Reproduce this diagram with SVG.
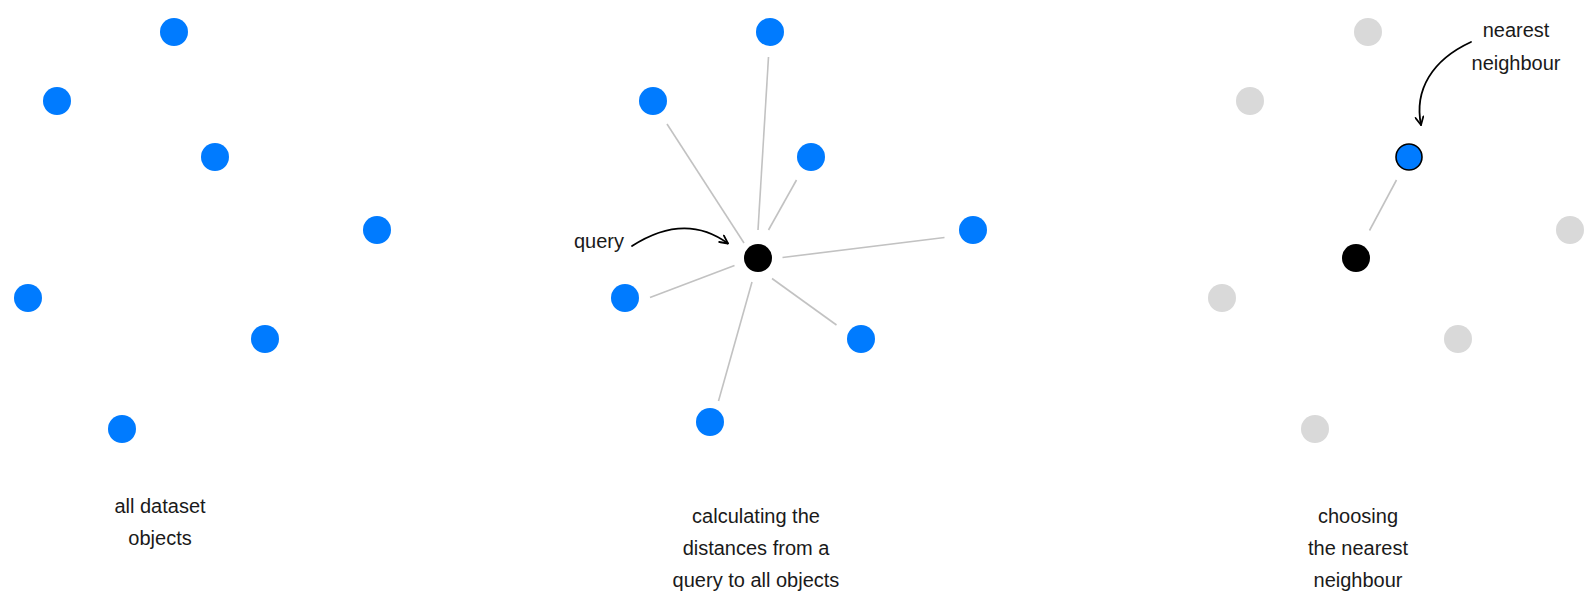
<svg xmlns="http://www.w3.org/2000/svg" width="1592" height="608" viewBox="0 0 1592 608">
<defs>
<style>
.pt{fill:#007bff}
.gr{fill:#d9d9d9}
.q{fill:#000}
.nn{fill:#007bff;stroke:#000;stroke-width:1.6}
.ln{stroke:#c2c2c2;stroke-width:1.6;fill:none}
.ar{stroke:#000;stroke-width:1.8;fill:none;stroke-linecap:round}
.t{font-family:"Liberation Sans",Arial,sans-serif;font-size:20px;fill:#1a1a1a;text-anchor:middle}
.tl{font-family:"Liberation Sans",Arial,sans-serif;font-size:20px;fill:#1a1a1a}
</style>
<marker id="ah" viewBox="0 0 10 10" refX="9" refY="5" markerWidth="10" markerHeight="10" markerUnits="userSpaceOnUse" orient="auto">
<path d="M1,1 L9,5 L1,9" fill="none" stroke="#000" stroke-width="1.8" stroke-linecap="round" stroke-linejoin="round"/>
</marker>
</defs>
<rect width="1592" height="608" fill="#fff"/>

<g id="panel1">
<circle id="p1a" class="pt" cx="174" cy="32" r="14"/>
<circle id="p1b" class="pt" cx="57" cy="101" r="14"/>
<circle id="p1c" class="pt" cx="215" cy="157" r="14"/>
<circle id="p1d" class="pt" cx="377" cy="230" r="14"/>
<circle id="p1e" class="pt" cx="28" cy="298" r="14"/>
<circle id="p1f" class="pt" cx="265" cy="339" r="14"/>
<circle id="p1g" class="pt" cx="122" cy="429" r="14"/>
<text class="t" x="160" y="513">all dataset</text>
<text class="t" x="160" y="545">objects</text>
</g>

<g id="connectors">
<line class="ln" x1="758" y1="230" x2="768.5" y2="57"/>
<line class="ln" x1="744" y1="243" x2="667" y2="124"/>
<line class="ln" x1="768.5" y1="230" x2="796.5" y2="180"/>
<line class="ln" x1="782.5" y1="257.5" x2="944.5" y2="237.5"/>
<line class="ln" x1="734.5" y1="265.5" x2="650" y2="297.5"/>
<line class="ln" x1="772" y1="278.5" x2="836.5" y2="325"/>
<line class="ln" x1="752" y1="282" x2="718.5" y2="401"/>
<line class="ln" x1="1396.5" y1="180" x2="1369.5" y2="230.5"/>
<path class="ar" d="M632,246 Q685,212 728,243.5" marker-end="url(#ah)"/>
<path class="ar" d="M1471,42 C1432,60 1414,90 1421,125" marker-end="url(#ah)"/>
</g>

<g id="panel2">
<circle id="p2a" class="pt" cx="770" cy="32" r="14"/>
<circle id="p2b" class="pt" cx="653" cy="101" r="14"/>
<circle id="p2c" class="pt" cx="811" cy="157" r="14"/>
<circle id="p2d" class="pt" cx="973" cy="230" r="14"/>
<circle id="p2e" class="pt" cx="625" cy="298" r="14"/>
<circle id="p2f" class="pt" cx="861" cy="339" r="14"/>
<circle id="p2g" class="pt" cx="710" cy="422" r="14"/>
<circle id="p2q" class="q" cx="758" cy="258" r="14"/>
<text class="tl" x="574" y="248">query</text>
<text class="t" x="756" y="523">calculating the</text>
<text class="t" x="756" y="555">distances from a</text>
<text class="t" x="756" y="587">query to all objects</text>
</g>

<g id="panel3">
<circle id="p3a" class="gr" cx="1368" cy="32" r="14"/>
<circle id="p3b" class="gr" cx="1250" cy="101" r="14"/>
<circle id="p3d" class="gr" cx="1570" cy="230" r="14"/>
<circle id="p3e" class="gr" cx="1222" cy="298" r="14"/>
<circle id="p3f" class="gr" cx="1458" cy="339" r="14"/>
<circle id="p3g" class="gr" cx="1315" cy="429" r="14"/>
<circle id="p3c" class="nn" cx="1409" cy="157" r="13"/>
<circle id="p3q" class="q" cx="1356" cy="258" r="14"/>
<text class="t" x="1516" y="37">nearest</text>
<text class="t" x="1516" y="70">neighbour</text>
<text class="t" x="1358" y="523">choosing</text>
<text class="t" x="1358" y="555">the nearest</text>
<text class="t" x="1358" y="587">neighbour</text>
</g>
</svg>
